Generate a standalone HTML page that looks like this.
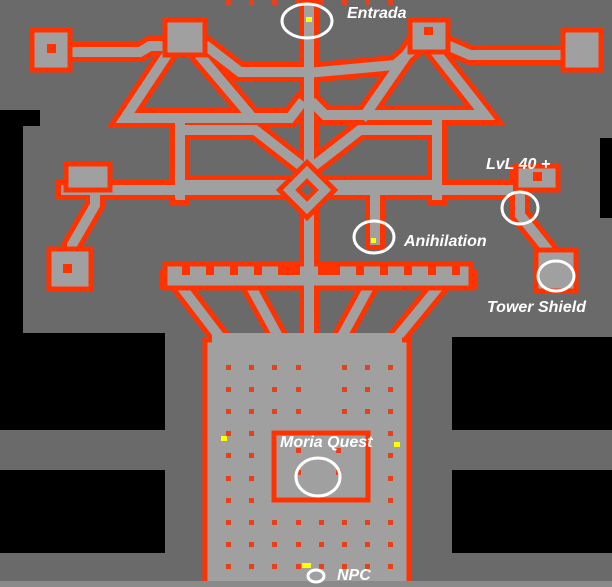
<!DOCTYPE html>
<html><head><meta charset="utf-8"><style>
html,body{margin:0;padding:0;background:#6a6a6a;}
svg{display:block;}
text{font-family:"Liberation Sans",sans-serif;font-style:italic;font-weight:bold;fill:#fff;font-size:16px;}
</style></head><body>
<svg width="612" height="587" viewBox="0 0 612 587" xmlns="http://www.w3.org/2000/svg">
<rect width="612" height="587" fill="#6a6a6a"/>
<g fill="#000">
<rect x="0" y="110" width="40" height="16"/>
<rect x="0" y="110" width="23" height="225"/>
<rect x="0" y="333" width="165" height="97"/>
<rect x="0" y="470" width="165" height="83"/>
<rect x="600" y="138" width="12" height="80"/>
<rect x="452" y="337" width="160" height="93"/>
<rect x="452" y="470" width="160" height="83"/>
</g>
<defs>
<g id="c" fill="none" stroke-linejoin="miter" stroke-linecap="square">
<path d="M309,10 V262"/>
<path d="M66,190 H508"/>
<path d="M60,52 H140 L150,46 H165"/>
<path d="M205,45 L240,72 H300"/>
<path d="M170,50 L125,118 H290 L300,105"/>
<path d="M195,50 L250,115"/>
<path d="M180,120 V195"/>
<path d="M180,130 H255 L300,165"/>
<path d="M185,185 H285"/>
<path d="M95,190 V205 L72,245 V265"/>
<path d="M430,35 L395,65 L318,72"/>
<path d="M440,42 L470,55 H570"/>
<path d="M430,45 L485,115 H325 L315,105"/>
<path d="M410,50 L365,115"/>
<path d="M437,118 V195"/>
<path d="M437,130 H360 L315,165"/>
<path d="M432,185 H330"/>
<path d="M520,175 V215 L548,250 V270"/>
<path d="M375,195 V240"/>
<path d="M170,280 H468"/>
<path d="M180,285 L222,340 M250,285 L280,340 M309,285 V340 M370,285 L340,340 M440,285 L395,340"/>
</g>
</defs>
<use href="#c" stroke="#ff3300" stroke-width="20"/>
<use href="#c" stroke="#a0a0a0" stroke-width="10"/>
<!-- comb band -->
<rect x="165" y="264" width="306" height="24" fill="#a0a0a0" stroke="#ff3300" stroke-width="5"/>
<rect x="304" y="258" width="10" height="34" fill="#a0a0a0"/>
<g fill="#ff3300">
<rect x="182" y="262" width="8" height="13"/><rect x="206" y="262" width="8" height="13"/>
<rect x="230" y="262" width="8" height="13"/><rect x="254" y="262" width="8" height="13"/>
<rect x="278" y="262" width="22" height="13"/>
<rect x="318" y="262" width="22" height="13"/>
<rect x="356" y="262" width="8" height="13"/><rect x="380" y="262" width="8" height="13"/>
<rect x="404" y="262" width="8" height="13"/><rect x="428" y="262" width="8" height="13"/>
<rect x="452" y="262" width="8" height="13"/>
</g>
<path d="M307,173 L324,190 L307,207 L290,190 Z" fill="#6a6a6a" stroke="#ff3300" stroke-width="20"/>
<path d="M307,173 L324,190 L307,207 L290,190 Z" fill="#6a6a6a" stroke="#a0a0a0" stroke-width="10"/>
<path d="M307,181 L316,190 L307,199 L298,190 Z" fill="#6a6a6a" stroke="#ff3300" stroke-width="4"/>
<g fill="#a0a0a0" stroke="#ff3300" stroke-width="5">
<rect x="32" y="30" width="38" height="40"/>
<rect x="165" y="20" width="40" height="35"/>
<rect x="410" y="20" width="38" height="32"/>
<rect x="563" y="30" width="38" height="40"/>
<rect x="66" y="164" width="44" height="26"/>
<rect x="49" y="249" width="42" height="40"/>
<rect x="516" y="166" width="42" height="24"/>
<rect x="536" y="250" width="40" height="41"/>
<rect x="205" y="340" width="204" height="260"/>
<rect x="274" y="433" width="94" height="67"/>
</g>
<rect x="212" y="333" width="190" height="12" fill="#a0a0a0"/>
<g fill="#ff3300">
<rect x="47" y="44" width="9" height="9"/>
<rect x="63" y="264" width="9" height="9"/>
<rect x="424" y="27" width="9" height="8"/>
<rect x="533" y="172" width="9" height="9"/>
</g>
<g fill="#e8401a">
<g id="row">
<rect x="226" y="0" width="5" height="5"/><rect x="249" y="0" width="5" height="5"/>
<rect x="272" y="0" width="5" height="5"/><rect x="296" y="0" width="5" height="5"/>
<rect x="342" y="0" width="5" height="5"/><rect x="365" y="0" width="5" height="5"/>
<rect x="388" y="0" width="5" height="5"/>
</g>
<use href="#row" y="365"/><use href="#row" y="387"/><use href="#row" y="409"/>
<rect x="226" y="431" width="5" height="5"/><rect x="249" y="431" width="5" height="5"/><rect x="388" y="431" width="5" height="5"/>
<rect x="226" y="453" width="5" height="5"/><rect x="249" y="453" width="5" height="5"/><rect x="388" y="453" width="5" height="5"/>
<rect x="226" y="476" width="5" height="5"/><rect x="249" y="476" width="5" height="5"/><rect x="388" y="476" width="5" height="5"/>
<rect x="226" y="498" width="5" height="5"/><rect x="249" y="498" width="5" height="5"/><rect x="388" y="498" width="5" height="5"/>
<g id="row2"><use href="#row"/><rect x="319" y="0" width="5" height="5"/></g>
<use href="#row2" y="520"/><use href="#row2" y="542"/><use href="#row2" y="564"/>
<rect x="296" y="448" width="5" height="5"/><rect x="336" y="448" width="5" height="5"/>
<rect x="296" y="470" width="5" height="5"/><rect x="336" y="470" width="5" height="5"/>
</g>
<rect x="0" y="581" width="612" height="6" fill="#8a8a8a"/>
<g fill="#ffff00">
<rect x="306" y="17" width="6" height="5"/>
<rect x="371" y="238" width="5" height="5"/>
<rect x="221" y="436" width="6" height="5"/>
<rect x="394" y="442" width="6" height="5"/>
<rect x="302" y="563" width="9" height="5"/>
</g>
<g fill="none" stroke="#fff" stroke-width="3">
<ellipse cx="307" cy="21" rx="25" ry="17"/>
<ellipse cx="520" cy="208" rx="18" ry="16"/>
<ellipse cx="374" cy="237" rx="20" ry="16"/>
<ellipse cx="556" cy="276" rx="18" ry="15"/>
<ellipse cx="318" cy="477" rx="22" ry="19"/>
<ellipse cx="316" cy="576" rx="8" ry="6"/>
</g>
<text x="347" y="18">Entrada</text>
<text x="486" y="169">LvL 40 +</text>
<text x="404" y="246">Anihilation</text>
<text x="487" y="312">Tower Shield</text>
<text x="280" y="447">Moria Quest</text>
<text x="337" y="580">NPC</text>
</svg>
</body></html>
